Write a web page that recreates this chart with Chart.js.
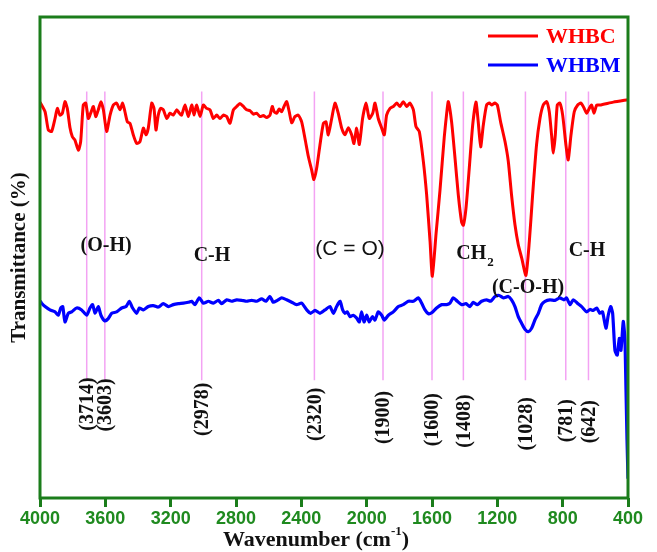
<!DOCTYPE html>
<html>
<head>
<meta charset="UTF-8" />
<title>FTIR WHBC / WHBM</title>
<style>
  html, body { margin: 0; padding: 0; background: #fff; }
  #ftir { display: block; }
</style>
</head>
<body>
<canvas id="ftir" width="657" height="552"></canvas>
<script src="https://cdn.jsdelivr.net/npm/chart.js"></script>
<script>
// x axis ticks (cm-1)
const xTicks = [4000, 3600, 3200, 2800, 2400, 2000, 1600, 1200, 800, 400];

// WHBC (red) spectrum
const whbcWave = [4000, 3969, 3949, 3929, 3908, 3894, 3878, 3863, 3847, 3833, 3816, 3802, 3786, 3765, 3751, 3735, 3720, 3704, 3690, 3673,
  3659, 3643, 3627, 3612, 3592, 3571, 3551, 3531, 3510, 3494, 3480, 3465, 3449, 3429, 3408, 3388, 3367, 3351, 3337, 3316,
  3302, 3290, 3276, 3261, 3245, 3224, 3204, 3184, 3163, 3147, 3133, 3112, 3092, 3071, 3057, 3041, 3020, 3000, 2980, 2959,
  2939, 2918, 2898, 2878, 2857, 2837, 2816, 2796, 2776, 2755, 2735, 2714, 2694, 2674, 2653, 2633, 2612, 2592, 2578, 2566,
  2551, 2535, 2521, 2506, 2490, 2474, 2459, 2439, 2419, 2398, 2378, 2357, 2337, 2323, 2306, 2286, 2265, 2249, 2235, 2214,
  2194, 2174, 2153, 2133, 2112, 2092, 2078, 2061, 2045, 2025, 2004, 1984, 1963, 1949, 1929, 1908, 1892, 1878, 1857, 1837,
  1816, 1796, 1776, 1755, 1735, 1714, 1698, 1678, 1653, 1633, 1612, 1598, 1575, 1551, 1525, 1510, 1500, 1480, 1459, 1439,
  1419, 1408, 1392, 1372, 1351, 1331, 1317, 1302, 1286, 1266, 1249, 1235, 1215, 1200, 1180, 1153, 1133, 1113, 1092, 1072,
  1051, 1025, 1004, 984, 960, 939, 919, 898, 882, 868, 857, 845, 833, 817, 800, 780, 766, 749, 729, 708,
  688, 668, 653, 637, 623, 608, 592, 572, 490, 400];
const whbcT = [82.3, 80.3, 76.5, 76.2, 78.9, 81.0, 79.6, 80.0, 82.4, 81.0, 76.9, 75.1, 74.4, 72.3, 74.1, 81.7, 82.1, 78.9, 80.0, 81.4,
  79.3, 80.7, 82.4, 80.7, 76.2, 79.6, 81.7, 82.1, 80.7, 82.1, 80.3, 78.2, 77.9, 75.5, 73.7, 74.1, 76.9, 75.5, 76.9, 82.1,
  81.0, 76.5, 79.6, 81.0, 80.7, 78.9, 80.0, 79.6, 80.7, 80.0, 79.6, 81.7, 79.3, 81.7, 79.6, 81.7, 79.3, 81.7, 81.0, 80.7,
  78.9, 79.6, 78.9, 79.6, 79.3, 77.9, 80.7, 81.4, 82.0, 81.4, 80.7, 80.5, 79.8, 80.0, 79.3, 79.5, 79.1, 79.6, 81.4, 80.3,
  80.0, 80.9, 80.3, 81.4, 82.4, 80.3, 78.0, 79.3, 79.6, 78.2, 74.8, 71.0, 68.2, 66.2, 68.6, 73.4, 77.9, 78.2, 75.5, 78.9,
  82.1, 80.0, 76.9, 75.5, 77.0, 75.5, 73.7, 76.9, 73.5, 78.9, 82.1, 78.9, 80.0, 82.1, 78.9, 76.9, 75.5, 79.6, 81.0, 81.4,
  82.1, 81.4, 82.4, 81.4, 82.1, 80.7, 77.2, 76.2, 70.0, 63.1, 53.4, 46.1, 55.0, 64.0, 75.0, 80.0, 82.4, 78.2, 70.6, 63.0,
  57.4, 56.7, 60.2, 68.5, 77.5, 82.3, 78.2, 73.0, 77.5, 81.7, 82.1, 81.7, 82.1, 81.7, 78.2, 74.1, 70.0, 63.0, 56.8, 52.7,
  49.9, 46.3, 53.4, 63.0, 73.4, 78.9, 81.7, 82.4, 80.3, 75.5, 71.7, 75.5, 81.7, 82.1, 79.6, 73.4, 70.3, 75.5, 80.3, 81.7,
  82.1, 81.0, 80.0, 81.0, 81.7, 80.0, 81.7, 81.7, 82.3, 82.8];

// WHBM (blue) spectrum
const whbmWave = [4000, 3990, 3969, 3939, 3908, 3888, 3873, 3861, 3847, 3827, 3806, 3776, 3745, 3714, 3694, 3678, 3663, 3643, 3627, 3602,
  3582, 3561, 3531, 3500, 3473, 3453, 3433, 3408, 3392, 3367, 3337, 3306, 3276, 3245, 3214, 3184, 3153, 3122, 3092, 3071,
  3051, 3025, 3000, 2969, 2939, 2908, 2888, 2857, 2827, 2796, 2765, 2735, 2704, 2674, 2643, 2616, 2592, 2572, 2547, 2520,
  2490, 2459, 2429, 2398, 2367, 2343, 2316, 2286, 2255, 2225, 2204, 2184, 2163, 2147, 2133, 2119, 2102, 2082, 2061, 2045,
  2031, 2016, 2000, 1984, 1965, 1949, 1929, 1908, 1892, 1867, 1837, 1806, 1776, 1745, 1714, 1684, 1663, 1643, 1622, 1602,
  1572, 1541, 1510, 1490, 1470, 1445, 1419, 1392, 1368, 1347, 1323, 1296, 1266, 1241, 1214, 1188, 1163, 1133, 1113, 1092,
  1072, 1051, 1031, 1010, 990, 970, 949, 929, 908, 878, 847, 817, 792, 776, 755, 735, 710, 684, 653, 633,
  613, 592, 572, 556, 535, 521, 506, 494, 480, 466, 453, 443, 429, 419, 412, 406, 400];
const whbmT = [41.0, 40.5, 39.8, 39.1, 38.7, 38.0, 39.5, 39.8, 36.6, 38.4, 38.7, 39.5, 39.1, 38.0, 39.5, 40.2, 38.4, 39.8, 38.0, 36.8,
  37.3, 38.4, 38.7, 39.5, 39.8, 40.9, 39.5, 38.4, 39.5, 39.1, 39.8, 40.0, 39.7, 40.4, 39.8, 40.2, 40.4, 40.5, 40.7, 40.9,
  40.2, 41.6, 40.5, 40.9, 40.5, 41.1, 40.4, 41.2, 40.9, 41.2, 41.1, 40.9, 41.1, 40.9, 41.4, 40.9, 41.9, 40.7, 41.1, 41.6,
  41.2, 40.7, 40.2, 40.5, 39.1, 38.4, 39.0, 38.4, 39.1, 39.8, 38.4, 39.8, 40.9, 39.1, 38.4, 38.7, 37.7, 38.0, 37.4, 36.6,
  38.7, 36.6, 38.0, 36.6, 37.7, 37.0, 38.7, 38.0, 37.0, 38.0, 38.7, 39.8, 40.2, 40.9, 40.9, 41.6, 40.5, 39.1, 38.3, 38.5,
  39.5, 40.2, 40.2, 40.5, 41.6, 40.9, 40.2, 40.4, 39.8, 40.7, 40.2, 40.9, 41.2, 40.9, 41.9, 42.1, 41.6, 41.9, 41.2, 39.8,
  37.7, 36.3, 35.1, 34.6, 35.3, 37.0, 38.4, 40.2, 40.9, 41.2, 41.1, 41.6, 41.2, 41.6, 40.2, 41.2, 40.5, 39.8, 38.7, 39.2,
  39.0, 39.5, 38.4, 38.7, 35.3, 38.0, 39.8, 38.4, 30.7, 29.7, 33.2, 30.7, 36.7, 33.0, 22.0, 12.0, 4.0];

// marked bands: where the guide line sits and the value written under it
const peakWave = [3714, 3603, 3010, 2320, 1900, 1600, 1408, 1028, 781, 642];
const peakText = ['(3714)', '(3603)', '(2978)', '(2320)', '(1900)', '(1600)', '(1408)', '(1028)', '(781)', '(642)'];

// group names written on the plot
const bandNames = ['(O-H)', 'C-H', '(C = O)', 'CH', '(C-O-H)', 'C-H'];

// layout for the group names (x in cm-1, y in %)
const bandPos = [[3595, 52.4], [2947, 50.3], [2102, 51.8], [1340, 50.7], [1012, 43.7], [651, 51.4]];

const green = '#1b7d1b';
const serif = '"Liberation Serif", "Times New Roman", serif';
const sans = '"Liberation Sans", Arial, sans-serif';

function toPoints(xs, ys) {
  return xs.map((v, i) => ({ x: v, y: ys[i] }));
}

const decor = {
  id: 'decor',
  beforeDatasetsDraw(chart) {
    const { ctx, scales: { x, y } } = chart;
    ctx.save();
    ctx.strokeStyle = '#f3a3f3';
    ctx.lineWidth = 1.5;
    peakWave.forEach(w => {
      const px = x.getPixelForValue(w);
      ctx.beginPath();
      ctx.moveTo(px, y.getPixelForValue(84.5));
      ctx.lineTo(px, y.getPixelForValue(24.5));
      ctx.stroke();
    });
    ctx.restore();
  },
  afterDatasetsDraw(chart) {
    const { ctx, scales: { x, y }, chartArea } = chart;
    ctx.save();
    ctx.fillStyle = '#111';
    // rotated wavenumber labels
    ctx.font = 'bold 20px ' + serif;
    peakWave.forEach((w, i) => {
      const px = x.getPixelForValue(w);
      const top = y.getPixelForValue(25.5) + (px - chartArea.left) * 0.045;
      ctx.save();
      ctx.translate(px, top);
      ctx.rotate(-Math.PI / 2);
      ctx.textAlign = 'right';
      ctx.textBaseline = 'middle';
      ctx.fillText(peakText[i], 0, 1);
      ctx.restore();
    });
    // band names
    ctx.textAlign = 'center';
    ctx.textBaseline = 'middle';
    bandNames.forEach((t, i) => {
      const px = x.getPixelForValue(bandPos[i][0]);
      const py = y.getPixelForValue(bandPos[i][1]);
      if (t === '(C = O)') {
        ctx.font = '21px ' + sans;
        ctx.fillText(t, px, py);
      } else if (t === 'CH') {
        ctx.font = 'bold 20px ' + serif;
        const w1 = ctx.measureText(t).width;
        ctx.font = 'bold 13px ' + serif;
        const w2 = ctx.measureText('2').width;
        const left = px - (w1 + w2) / 2;
        ctx.textAlign = 'left';
        ctx.font = 'bold 20px ' + serif;
        ctx.fillText(t, left, py);
        ctx.font = 'bold 13px ' + serif;
        ctx.fillText('2', left + w1 + 1, py + 9);
        ctx.textAlign = 'center';
      } else {
        ctx.font = 'bold 20px ' + serif;
        ctx.fillText(t, px, py);
      }
    });
    ctx.restore();
  },
  afterDraw(chart) {
    const { ctx, chartArea: a } = chart;
    ctx.save();
    // frame
    ctx.strokeStyle = green;
    ctx.lineWidth = 3;
    ctx.strokeRect(a.left, a.top, a.right - a.left, a.bottom - a.top);
    // legend
    const items = [['WHBC', '#ff0000', 36], ['WHBM', '#0000ff', 65]];
    ctx.font = 'bold 22px ' + serif;
    ctx.textBaseline = 'middle';
    ctx.textAlign = 'left';
    items.forEach(([name, col, ly]) => {
      ctx.strokeStyle = col;
      ctx.lineWidth = 3;
      ctx.beginPath();
      ctx.moveTo(488, ly);
      ctx.lineTo(538, ly);
      ctx.stroke();
      ctx.fillStyle = col;
      ctx.fillText(name, 546, ly + 1);
    });
    // x title with superscript
    ctx.fillStyle = '#111';
    const t1 = 'Wavenumber (cm', t2 = '-1', t3 = ')';
    ctx.font = 'bold 22px ' + serif;
    const w1 = ctx.measureText(t1).width, w3 = ctx.measureText(t3).width;
    ctx.font = 'bold 13px ' + serif;
    const w2 = ctx.measureText(t2).width;
    let sx = 316 - (w1 + w2 + w3) / 2;
    const ty = 540;
    ctx.font = 'bold 22px ' + serif;
    ctx.fillText(t1, sx, ty);
    ctx.font = 'bold 13px ' + serif;
    ctx.fillText(t2, sx + w1, ty - 8);
    ctx.font = 'bold 22px ' + serif;
    ctx.fillText(t3, sx + w1 + w2, ty);
    ctx.restore();
  }
};

new Chart(document.getElementById('ftir'), {
  type: 'line',
  data: {
    datasets: [
      { label: 'WHBC', data: toPoints(whbcWave, whbcT), borderColor: '#ff0000', borderWidth: 3, pointRadius: 0, tension: 0.2 },
      { label: 'WHBM', data: toPoints(whbmWave, whbmT), borderColor: '#0000ff', borderWidth: 3.2, pointRadius: 0, tension: 0.2 }
    ]
  },
  options: {
    responsive: false,
    animation: false,
    devicePixelRatio: 1,
    layout: { padding: { top: 17, right: 29, left: 0, bottom: 0 } },
    plugins: { legend: { display: false }, tooltip: { enabled: false } },
    scales: {
      x: {
        type: 'linear',
        reverse: true,
        min: 400,
        max: 4000,
        afterBuildTicks: s => { s.ticks = xTicks.map(v => ({ value: v })); },
        afterFit: s => { s.height = 54; },
        border: { display: false },
        grid: { drawOnChartArea: false, drawTicks: true, tickLength: 9, color: green, lineWidth: 3 },
        ticks: {
          color: '#1f8a1f',
          font: { family: sans, size: 18, weight: 'bold' },
          padding: 1,
          maxRotation: 0,
          autoSkip: false,
          callback: v => String(v)
        }
      },
      y: {
        min: 0,
        max: 100,
        afterFit: s => { s.width = 40; },
        border: { display: false },
        grid: { display: false },
        ticks: { display: false },
        title: { display: true, text: 'Transmittance (%)', color: '#111', font: { family: serif, size: 21, weight: 'bold' }, padding: { top: 7, bottom: 0 } }
      }
    }
  },
  plugins: [decor]
});
</script>
</body>
</html>
